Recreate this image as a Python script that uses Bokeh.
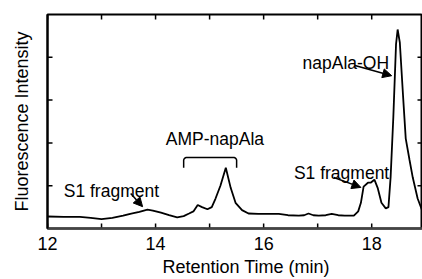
import numpy as np
from bokeh.plotting import figure
from bokeh.models import (FixedTicker, Label, Arrow, NormalHead, Range1d, Title)
from bokeh.embed import file_html
from bokeh.resources import INLINE

# ---- data ----
time_min = [12.0, 12.3, 12.6, 12.8, 13.0, 13.2, 13.4, 13.55, 13.7, 13.85, 13.95, 14.1,
            14.25, 14.4, 14.52, 14.62, 14.7, 14.78, 14.86, 14.96, 15.04, 15.11, 15.2,
            15.3, 15.39, 15.48, 15.6, 15.72, 15.9, 16.1, 16.28, 16.45, 16.65, 16.75,
            16.83, 16.92, 17.02, 17.15, 17.26, 17.38, 17.5, 17.67, 17.75, 17.8, 17.85,
            17.93, 17.98, 18.05, 18.11, 18.18, 18.26, 18.31, 18.35, 18.4, 18.45, 18.48,
            18.52, 18.58, 18.63, 18.7, 18.76, 18.85, 18.94]
intensity = [0.28, 0.27, 0.27, 0.25, 0.22, 0.25, 0.30, 0.35, 0.39, 0.44, 0.42, 0.37,
             0.31, 0.26, 0.29, 0.35, 0.40, 0.55, 0.50, 0.45, 0.50, 0.70, 1.00,
             1.42, 0.95, 0.60, 0.43, 0.35, 0.34, 0.34, 0.34, 0.31, 0.30, 0.31,
             0.35, 0.31, 0.30, 0.31, 0.34, 0.31, 0.30, 0.30, 0.40, 0.60, 0.98,
             1.07, 1.07, 1.14, 0.95, 0.60, 0.47, 0.50, 1.20, 2.60, 4.30, 4.65,
             4.35, 3.10, 2.10, 1.60, 1.19, 0.70, 0.40]

x_ticks = [12, 13, 14, 15, 16, 17, 18]
x_tick_labels = {12: "12", 13: "", 14: "14", 15: "", 16: "16", 17: "", 18: "18"}
y_ticks = [1, 2, 3, 4]

FONT = "Liberation Sans"
X0, X1, Y0, Y1 = 12, 18.94, 0, 5

p = figure(width=422, height=279, output_backend="svg", toolbar_location=None,
           x_range=Range1d(X0, X1), y_range=Range1d(Y0, Y1),
           min_border_left=47, min_border_right=0, min_border_top=14, min_border_bottom=51)
p.outline_line_color = "black"
p.outline_line_width = 2
p.xgrid.visible = False
p.ygrid.visible = False
p.background_fill_color = "white"
p.border_fill_color = "white"

def style_axis(ax, ticks, line_color, line_width, labels=None):
    ax.ticker = FixedTicker(ticks=ticks)
    ax.major_tick_in = 0
    ax.major_tick_out = 0
    ax.minor_tick_in = 0
    ax.minor_tick_out = 0
    ax.axis_line_color = line_color
    ax.axis_line_width = line_width
    ax.major_label_text_font = FONT
    ax.major_label_text_color = "black"
    if labels is not None:
        ax.major_label_overrides = labels
        ax.major_label_text_font_size = "18px"
        ax.major_label_standoff = 8
    else:
        ax.major_label_overrides = {t: "" for t in ticks}
        ax.major_label_text_font_size = "8px"
        ax.major_label_standoff = 0

bottom = p.xaxis[0]
style_axis(bottom, x_ticks, "#444444", 2.5, x_tick_labels)

left = p.yaxis[0]
style_axis(left, y_ticks, "black", 2)
left.axis_label = "Fluorescence Intensity"
left.axis_label_text_font = FONT
left.axis_label_text_font_size = "18px"
left.axis_label_text_font_style = "normal"
left.axis_label_text_color = "black"
left.axis_label_standoff = 16

# x axis title placed below the tick labels
p.add_layout(Title(text="Retention Time (min)", align="left", offset=115,
                   text_font=FONT, text_font_size="18px", text_font_style="normal",
                   text_color="black", standoff=4), "below")

# ---- inward tick marks on all four sides of the frame ----
tick_x = 5 / (375 / (X1 - X0))   # 5 px in data units
tick_y = 5 / (214 / (Y1 - Y0))
xt = np.array(x_ticks, dtype=float)
yt = np.array(y_ticks, dtype=float)
p.segment(x0=xt, y0=np.full_like(xt, Y0), x1=xt, y1=np.full_like(xt, Y0 + tick_y),
          line_color="black", line_width=1.5)
p.segment(x0=xt, y0=np.full_like(xt, Y1), x1=xt, y1=np.full_like(xt, Y1 - tick_y),
          line_color="black", line_width=1.5)
p.segment(x0=np.full_like(yt, X0), y0=yt, x1=np.full_like(yt, X0 + tick_x), y1=yt,
          line_color="black", line_width=1.5)
p.segment(x0=np.full_like(yt, X1), y0=yt, x1=np.full_like(yt, X1 - tick_x), y1=yt,
          line_color="black", line_width=1.5)

# ---- trace ----
p.line(time_min, intensity, line_color="black", line_width=1.8)

# ---- annotations ----
def note(x, y, txt):
    p.add_layout(Label(x=x, y=y, text=txt, text_font=FONT, text_font_size="17.5px",
                       text_align="left", text_baseline="alphabetic", text_color="black"))

def arrow(x0, y0, x1, y1):
    p.add_layout(Arrow(end=NormalHead(size=9, fill_color="black", line_color="black"),
                       x_start=x0, y_start=y0, x_end=x1, y_end=y1,
                       line_color="black", line_width=1.5))

note(12.30, 0.88, "S1 fragment")
arrow(13.54, 0.82, 13.76, 0.51)

note(14.19, 2.08, "AMP-napAla")

note(16.56, 1.29, "S1 fragment")
arrow(17.30, 1.19, 17.80, 0.96)

note(16.72, 3.86, "napAla-OH")
arrow(17.69, 3.81, 18.37, 3.57)

# bracket over AMP-napAla
bx0, bx1, btop, bbot = 14.52, 15.50, 1.66, 1.42
rx, ry = 0.06, 0.07
th = np.linspace(np.pi, np.pi / 2, 8)
th2 = np.linspace(np.pi / 2, 0, 8)
bxs = [bx0] + list(bx0 + rx + rx * np.cos(th)) + list(bx1 - rx + rx * np.cos(th2)) + [bx1]
bys = [bbot] + list(btop - ry + ry * np.sin(th)) + list(btop - ry + ry * np.sin(th2)) + [bbot]
p.line(bxs, bys, line_color="black", line_width=1.5)

open("out.html", "w").write(file_html(p, INLINE))
